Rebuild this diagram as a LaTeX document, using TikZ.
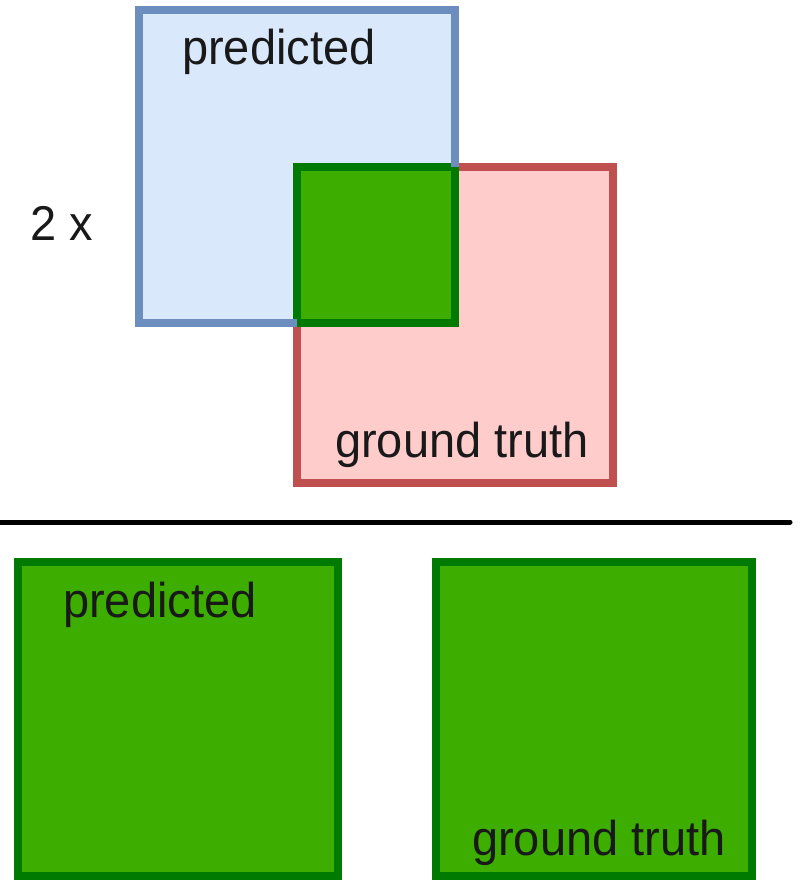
\documentclass[tikz,border=0pt]{standalone}
\usepackage{fontspec}
\setmainfont{Liberation Sans}
\definecolor{bluefill}{HTML}{DAE8FC}
\definecolor{bluedraw}{HTML}{6C8EBF}
\definecolor{redfill}{HTML}{FFCCCC}
\definecolor{reddraw}{HTML}{C05050}
\definecolor{greenfill}{HTML}{3DAE00}
\definecolor{greendraw}{HTML}{007A00}
\begin{document}
\begin{tikzpicture}[x=1pt,y=-1pt,
  boxline/.style={line width=8pt},
  predbox/.style={boxline,draw=bluedraw,fill=bluefill},
  truthbox/.style={boxline,draw=reddraw,fill=redfill},
  greenbox/.style={boxline,draw=greendraw,fill=greenfill},
  lbl/.style={inner sep=0pt,anchor=base west,font=\fontsize{47}{52}\selectfont,text=black!90,yscale=1.04}]
\useasboundingbox (0,0) rectangle (800,880);
% top: overlap
\draw[predbox] (139,10) rectangle (455,323);
\draw[truthbox] (297,167) rectangle (613,483);
\draw[greenbox] (297,167) rectangle (455,323);
\draw[bluedraw,boxline] (455,10) -- (455,167);
\draw[bluedraw,boxline] (139,323) -- (297,323);
\node[lbl] (p1) at (182,65) {predicted};
\node[lbl] (t1) at (335,457) {ground truth};
\node[lbl] (two) at (30,240) {2 x};
% separator
\coordinate (l0) at (0,522);
\coordinate (l1) at (790,522);
\draw[line width=5pt,line cap=round] (l0) -- (l1);
% bottom: union
\draw[greenbox] (18,562) rectangle (338,876);
\draw[greenbox] (436,562) rectangle (752,876);
\node[lbl] (p2) at (63,617) {predicted};
\node[lbl] (t2) at (472,855) {ground truth};
\end{tikzpicture}
\end{document}
